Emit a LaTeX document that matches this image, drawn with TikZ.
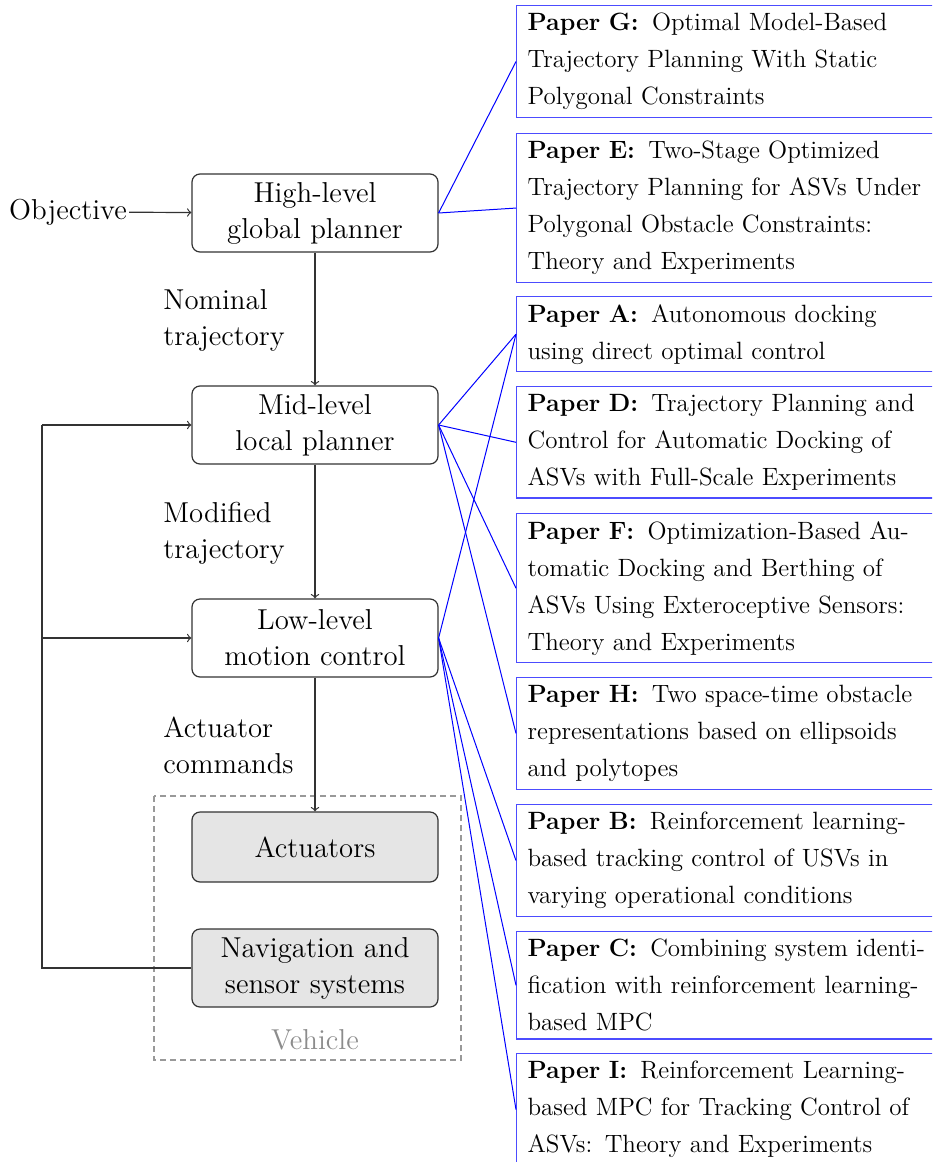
\documentclass[tikz,border=0pt]{standalone}
\begin{document}
\begin{tikzpicture}[x=0.5pt,y=-0.5pt,
  bigfont/.style={font=\fontsize{14.4}{18}\selectfont},
  block/.style={bigfont, draw=black!80, line width=0.6pt, rounded corners=4pt,
    minimum width=123pt, minimum height=39pt, align=center, inner sep=2pt},
  hwblock/.style={block, fill=black!10, minimum height=35pt},
  lbl/.style={bigfont, align=left, anchor=west, inner sep=0pt},
  paper/.style={draw=blue!70, line width=0.6pt, anchor=north west, text width=205pt,
    align=left, inner xsep=5.5pt, inner ysep=3.8pt, font=\fontsize{12.5}{18.5}\selectfont},
  link/.style={blue, line width=0.5pt},
  flow/.style={draw=black!80, line width=0.6pt, ->}]
\newcommand{\paperid}[1]{\textbf{Paper #1:}\hspace{2.5pt} }
\useasboundingbox (0,0) rectangle (932,1162);
\clip (0,0) rectangle (932,1162);

% planning and control hierarchy
\node[block] (high) at (315,213) {High-level\\global planner};
\node[block] (mid)  at (315,425) {Mid-level\\local planner};
\node[block] (low)  at (315,638) {Low-level\\motion control};
\node[hwblock] (act) at (315,847) {Actuators};
\node[block, fill=black!10] (nav) at (315,968) {Navigation and\\sensor systems};

% vehicle boundary
\draw[black!40, line width=0.6pt, dash pattern=on 3pt off 2pt] (154,796) rectangle (461,1060);
\node[bigfont, text=black!45] (veh) at (315,1040) {Vehicle};

% input and signal labels
\node[bigfont, inner sep=1pt] (obj) at (68,212) {Objective};
\node[lbl] (nom) at (163,320) {Nominal\\trajectory};
\node[lbl] (mod) at (163,533) {Modified\\trajectory};
\node[lbl] (cmd) at (163,745) {Actuator\\commands};

% signal flow
\draw[flow] (obj) -- (high);
\draw[flow] (high) -- (mid);
\draw[flow] (mid) -- (low);
\draw[flow] (low) -- (act);
\coordinate (fbb) at (42,968);
\coordinate (fbm) at (42,638);
\coordinate (fbt) at (42,425);
\draw[flow, -] (nav.west) -- (fbb) -- (fbt);
\draw[flow] (fbt) -- (mid.west);
\draw[flow] (fbm) -- (low.west);

% papers
\node[paper] (pG) at (516,5) {\paperid{G}Optimal Model-Based\\Trajectory Planning With Static\\Polygonal Constraints};
\node[paper] (pE) at (516,133) {\paperid{E}Two-Stage Optimized\\Trajectory Planning for ASVs Under\\Polygonal Obstacle Constraints:\\Theory and Experiments};
\node[paper] (pA) at (516,296) {\paperid{A}Autonomous docking\\using direct optimal control};
\node[paper] (pD) at (516,386) {\paperid{D}Trajectory Planning and\\Control for Automatic Docking of\\ASVs with Full-Scale Experiments};
\node[paper] (pF) at (516,513) {\paperid{F}Optimization-Based Au-\\tomatic Docking and Berthing of\\ASVs Using Exteroceptive Sensors:\\Theory and Experiments};
\node[paper] (pH) at (516,677) {\paperid{H}Two space-time obstacle\\representations based on ellipsoids\\and polytopes};
\node[paper] (pB) at (516,804) {\paperid{B}Reinforcement learning-\\based tracking control of USVs in\\varying operational conditions};
\node[paper] (pC) at (516,931) {\paperid{C}Combining system identi-\\fication with reinforcement learning-\\based MPC};
\node[paper] (pI) at (516,1053) {\paperid{I}Reinforcement Learning-\\based MPC for Tracking Control of\\ASVs: Theory and Experiments};

% paper links
\draw[link] (high.east) -- (pG.west);
\draw[link] (high.east) -- (pE.west);
\draw[link] (mid.east) -- (pA.west);
\draw[link] (mid.east) -- (pD.west);
\draw[link] (mid.east) -- (pF.west);
\draw[link] (mid.east) -- (pH.west);
\draw[link] (low.east) -- (pA.west);
\draw[link] (low.east) -- (pB.west);
\draw[link] (low.east) -- (pC.west);
\draw[link] (low.east) -- (pI.west);
\end{tikzpicture}
\end{document}
